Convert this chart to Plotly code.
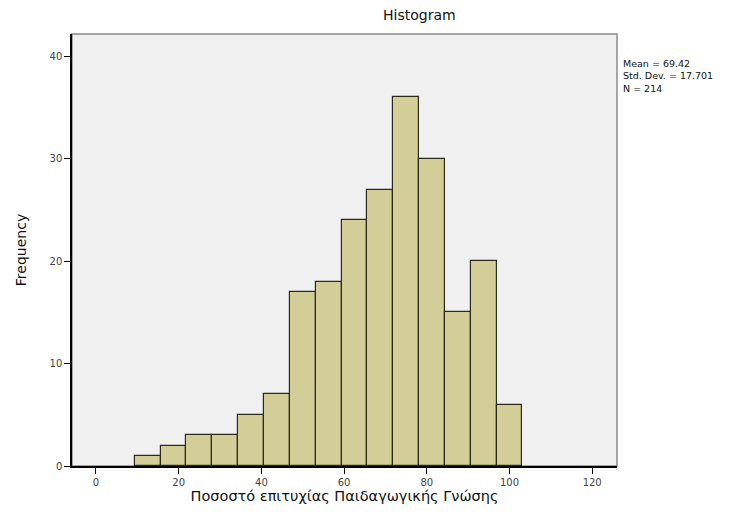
import plotly.graph_objects as go

bin_centers = [12.5, 18.75, 25.0, 31.25, 37.5, 43.75, 50.0, 56.25, 62.5, 68.75, 75.0, 81.25, 87.5, 93.75, 100.0]
frequencies = [1, 2, 3, 3, 5, 7, 17, 18, 24, 27, 36, 30, 15, 20, 6]
bin_width = 6.25
x_ticks = [0, 20, 40, 60, 80, 100, 120]
y_ticks = [0, 10, 20, 30, 40]
stats_lines = ["Mean = 69.42", "Std. Dev. = 17.701", "N = 214"]
title_text = "Histogram"
x_title = "Ποσοστό επιτυχίας Παιδαγωγικής Γνώσης"
y_title = "Frequency"

fig = go.Figure()
fig.add_trace(go.Bar(
    x=bin_centers, y=frequencies, width=[bin_width] * len(bin_centers),
    marker=dict(color="#d3ce97", line=dict(color="#2a2a1a", width=1.2)),
    hoverinfo="x+y",
))

font_family = "DejaVu Sans, Liberation Sans, Arial, sans-serif"
# page body has an 8px margin, so the figure is offset by 8px
fig.update_layout(
    width=731, height=506,
    margin=dict(l=62, r=122, t=26, b=43),
    paper_bgcolor="white", plot_bgcolor="#f0f0f0",
    showlegend=False,
    font=dict(family=font_family, color="#222222", size=10),
    bargap=0,
    shapes=[dict(type="rect", xref="paper", yref="paper", x0=0, y0=0, x1=1, y1=1,
                 line=dict(color="#8a8a8a", width=1.5), layer="below")],
)
fig.update_xaxes(
    range=[-5.8, 126], tickvals=x_ticks, ticks="outside", ticklen=6, tickwidth=1,
    tickcolor="black", showline=True, linecolor="black", linewidth=1.5,
    showgrid=False, zeroline=False, tickfont=dict(size=10, color="#444"),
    title=dict(text=x_title, font=dict(size=14.5, color="#111"), standoff=4),
)
fig.update_yaxes(
    range=[0, 42.2], tickvals=y_ticks, ticks="outside", ticklen=6, tickwidth=1,
    tickcolor="black", showline=True, linecolor="black", linewidth=1.5,
    showgrid=False, zeroline=False, tickfont=dict(size=10, color="#444"),
    title=dict(text=y_title, font=dict(size=14, color="#111"), standoff=20),
)
fig.add_annotation(text=title_text, xref="paper", yref="paper", x=(419 - 70) / 547, y=1,
                   yanchor="bottom", yshift=9, showarrow=False,
                   font=dict(size=14, color="#111", family=font_family))
fig.add_annotation(text="<br>".join(stats_lines), xref="paper", yref="paper",
                   x=1, xshift=4, y=(469 - 56) / 435, xanchor="left", yanchor="top",
                   align="left", showarrow=False,
                   font=dict(size=9.5, color="#111", family=font_family))
fig.write_html("out.html")
